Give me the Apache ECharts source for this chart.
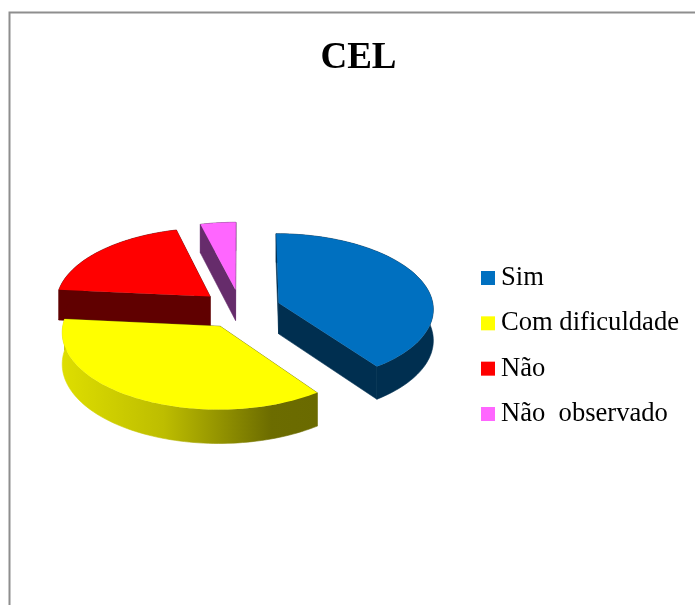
<!DOCTYPE html>
<html>
<head>
<meta charset="utf-8">
<style>html,body{margin:0;padding:0;background:#fff}#c{width:695px;height:605px}</style>
<script src="https://cdn.jsdelivr.net/npm/echarts@6/dist/echarts.min.js"></script>
</head>
<body>
<div id="c"></div>
<script>
const categories = ['Sim', 'Com dificuldade', 'Não', 'Não  observado'];
const values = [40, 36.5, 19.5, 4];
const colors = ['#0070C0', '#FFFF00', '#FF0000', '#FF66FF'];
const wallColors = ['#002F50', '#6A6A00', '#600000', '#662C6B'];

// 3D pie projection
const cx = 240.5, cy = 309, rx = 155, ry = 75, persp = 0.07, depth = 31, explode = 0.26;
const total = values.reduce((a, b) => a + b, 0);

function project(u, v, down) {
  const d = 1 - persp * v;
  return [cx + rx * u / d, cy + ry * v / d + (down ? depth / d : 0)];
}
function sliceGeometry(i) {
  let before = 0;
  for (let j = 0; j < i; j++) before += values[j];
  const a0 = before / total * 2 * Math.PI;
  const a1 = (before + values[i]) / total * 2 * Math.PI;
  const mid = (a0 + a1) / 2;
  const ou = explode * Math.sin(mid), ov = -explode * Math.cos(mid);
  const arc = (down) => {
    const pts = [];
    const n = 80;
    for (let s = 0; s <= n; s++) {
      const a = a0 + (a1 - a0) * s / n;
      pts.push(project(ou + Math.sin(a), ov - Math.cos(a), down));
    }
    return pts;
  };
  return { apexTop: project(ou, ov, false), apexDown: project(ou, ov, true), arcTop: arc(false), arcDown: arc(true) };
}
function renderSlice(i) {
  return function () {
    const g = sliceGeometry(i);
    const top = g.arcTop, down = g.arcDown;
    const rimFill = i === 1
      ? { type: 'linear', x: 0, y: 0, x2: 1, y2: 0, colorStops: [
          { offset: 0, color: '#DEDE00' }, { offset: 0.4, color: '#BDBD00' },
          { offset: 0.82, color: '#6C6C00' }, { offset: 1, color: wallColors[1] }] }
      : wallColors[i];
    const wallStyle = { fill: wallColors[i], stroke: wallColors[i], lineWidth: 0.6 };
    return {
      type: 'group',
      children: [
        { type: 'polygon', shape: { points: [g.apexTop, top[0], down[0], g.apexDown] }, style: wallStyle },
        { type: 'polygon', shape: { points: [g.apexTop, top[top.length - 1], down[down.length - 1], g.apexDown] }, style: wallStyle },
        { type: 'polygon', shape: { points: top.concat(down.slice().reverse()) }, style: { fill: rimFill, stroke: rimFill, lineWidth: 0.6 } },
        { type: 'polygon', shape: { points: [g.apexTop].concat(top) }, style: { fill: colors[i] } }
      ]
    };
  };
}

const series = categories.map((name, i) => ({
  type: 'custom',
  name: name,
  coordinateSystem: 'none',
  silent: true,
  animation: false,
  z: 10 - i,
  itemStyle: { color: colors[i] },
  data: [values[i]],
  renderItem: renderSlice(i)
}));

const chart = echarts.init(document.getElementById('c'), null, { renderer: 'canvas' });
chart.setOption({
  animation: false,
  backgroundColor: '#ffffff',
  title: {
    text: 'CEL', left: 353.5, top: 35, textAlign: 'center',
    textStyle: { fontFamily: 'Liberation Serif', fontSize: 37, fontWeight: 'bold', color: '#000' }
  },
  legend: {
    orient: 'vertical', left: 481, top: 264, padding: 0,
    icon: 'rect', itemWidth: 14, itemHeight: 14, itemGap: 17.33, align: 'left',
    data: categories, selectedMode: false,
    textStyle: { fontFamily: 'Liberation Serif', fontSize: 26.6, lineHeight: 27, color: '#000', padding: [1, 0, 0, 1] }
  },
  graphic: [{
    type: 'polyline', silent: true, z: 0,
    shape: { points: [[9.5, 620], [9.5, 12.5], [710, 12.5]] },
    style: { stroke: '#8E8E8E', lineWidth: 2, fill: null }
  }],
  series: series
});
</script>
</body>
</html>
